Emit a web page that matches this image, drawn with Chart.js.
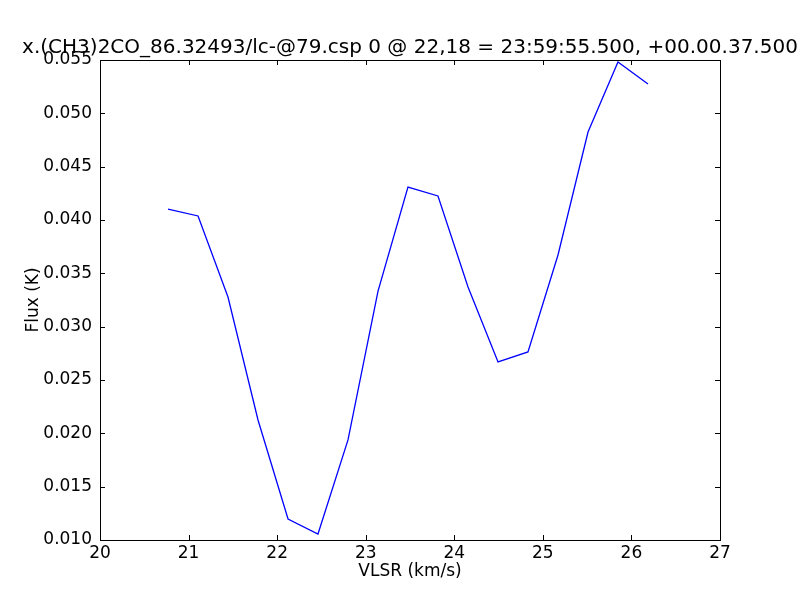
<!DOCTYPE html>
<html>
<head>
<meta charset="utf-8">
<script src="https://cdn.jsdelivr.net/npm/chart.js@4"></script>
<style>
html, body { margin: 0; padding: 0; background: #fff; }
#wrap { width: 800px; height: 600px; }
</style>
</head>
<body>
<div id="wrap"><canvas id="lineChart" width="800" height="600"></canvas></div>
<script>
// velocities (km/s) and flux (K)
var vlsr = [20.768, 21.107, 21.445, 21.784, 22.123, 22.461, 22.800, 23.139, 23.477,
	23.816, 24.155, 24.494, 24.832, 25.171, 25.510, 25.848, 26.187];
var flux = [0.04103, 0.04038, 0.03278, 0.02125, 0.01197, 0.01056, 0.01938, 0.03334, 0.04309,
	0.04225, 0.03372, 0.02669, 0.02763, 0.03672, 0.04825, 0.05481, 0.05275];
var xTicks = [20, 21, 22, 23, 24, 25, 26, 27];
var yTicks = [0.010, 0.015, 0.020, 0.025, 0.030, 0.035, 0.040, 0.045, 0.050, 0.055];

var titleText = 'x.(CH3)2CO_86.32493/lc-@79.csp 0 @ 22,18 = 23:59:55.500, +00.00.37.500';
var FONT = 'DejaVu Sans';

var points = vlsr.map(function (v, i) { return { x: v, y: flux[i] }; });

// matplotlib-style frame: box, inward ticks on all sides, title and axis labels
var framePlugin = {
	id: 'frame',
	afterDraw: function (chart) {
		var ctx = chart.ctx;
		var a = chart.chartArea;
		var xs = chart.scales.x, ys = chart.scales.y;
		ctx.save();
		ctx.strokeStyle = '#000';
		ctx.lineWidth = 1;
		ctx.strokeRect(a.left + 0.5, a.top + 0.5, a.right - a.left, a.bottom - a.top);
		ctx.beginPath();
		xTicks.forEach(function (t) {
			var px = Math.round(xs.getPixelForValue(t)) + 0.5;
			ctx.moveTo(px, a.bottom); ctx.lineTo(px, a.bottom - 5);
			ctx.moveTo(px, a.top); ctx.lineTo(px, a.top + 5);
		});
		yTicks.forEach(function (t) {
			var py = Math.round(ys.getPixelForValue(t)) + 0.5;
			ctx.moveTo(a.left, py); ctx.lineTo(a.left + 5, py);
			ctx.moveTo(a.right, py); ctx.lineTo(a.right - 5, py);
		});
		ctx.stroke();

		ctx.fillStyle = '#000';
		ctx.textAlign = 'center';
		ctx.font = '20px "' + FONT + '"';
		ctx.textBaseline = 'alphabetic';
		ctx.fillText(titleText, (a.left + a.right) / 2, 53);

		ctx.font = '17px "' + FONT + '"';
		ctx.textBaseline = 'middle';
		ctx.fillText('VLSR (km/s)', (a.left + a.right) / 2, 572);
		ctx.translate(34, (a.top + a.bottom) / 2);
		ctx.rotate(-Math.PI / 2);
		ctx.fillText('Flux (K)', 0, 0);
		ctx.restore();
	}
};

new Chart(document.getElementById('lineChart'), {
	type: 'line',
	data: {
		datasets: [
			{
				label: 'Flux',
				data: points,
				fill: false,
				borderColor: '#0000ff',
				borderWidth: 1.3,
				pointRadius: 0,
				tension: 0
			}
		]
	},
	options: {
		responsive: false,
		animation: false,
		layout: { padding: { left: 0, top: 60, right: 80, bottom: 0 } },
		plugins: {
			legend: { display: false },
			title: { display: false },
			tooltip: { enabled: false }
		},
		scales: {
			x: {
				type: 'linear',
				min: 20,
				max: 27,
				afterFit: function (s) { s.height = 60; },
				afterBuildTicks: function (s) { s.ticks = xTicks.map(function (v) { return { value: v }; }); },
				grid: { display: false },
				border: { display: false },
				ticks: {
					color: '#000',
					padding: -5,
					maxRotation: 0,
					font: { family: FONT, size: 17 },
					callback: function (v) { return String(v); }
				}
			},
			y: {
				min: 0.010,
				max: 0.055,
				afterFit: function (s) { s.width = 100; },
				afterBuildTicks: function (s) { s.ticks = yTicks.map(function (v) { return { value: v }; }); },
				grid: { display: false },
				border: { display: false },
				ticks: {
					color: '#000',
					padding: 0,
					font: { family: FONT, size: 17 },
					callback: function (v) { return v.toFixed(3); }
				}
			}
		}
	},
	plugins: [framePlugin]
});
</script>
</body>
</html>
